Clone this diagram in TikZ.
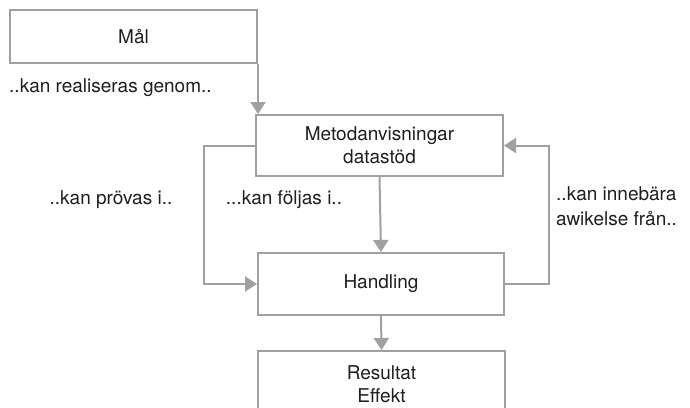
\documentclass[tikz,border=0pt]{standalone}
\usepackage{fontspec}
\setmainfont{TeX Gyre Heros}
\usepackage{tikz}
\usetikzlibrary{arrows.meta,calc,positioning}
\definecolor{linegray}{RGB}{160,160,160}
\definecolor{textgray}{RGB}{30,30,30}
\tikzset{
  box/.style={draw=linegray,line width=2pt,fill=white,text=textgray,align=center,
    inner sep=0pt,minimum width=247pt,font=\fontsize{19}{23}\selectfont},
  lbl/.style={text=textgray,inner sep=0pt,align=left,font=\fontsize{19}{25}\selectfont},
  arr/.style={draw=linegray,line width=2pt,-{Triangle[width=15pt,length=12pt]}}
}
\begin{document}
\begin{tikzpicture}[x=1pt,y=-1pt]
\useasboundingbox (0,0) rectangle (690,407);
\clip (0,0) rectangle (690,407);
\node[box,minimum height=53pt] (mal) at (133.5,36.5) {Mål};
\node[box,minimum height=61pt] (metod) at (379.5,145.5) {Metodanvisningar\\datastöd};
\node[box,minimum height=62pt,minimum width=246pt] (handling) at (381,284) {Handling};
\node[box,minimum height=66pt] (resultat) at (381.5,384) {Resultat\\Effekt};
\node[lbl,anchor=west] (realiseras) at (9,88) {..kan realiseras genom..};
\node[lbl] (provas) at (111,200) {..kan prövas i..};
\node[lbl] (foljas) at (284,200) {...kan följas i..};
\node[lbl,anchor=north west] (avvikelse) at (556,186) {..kan innebära\\awikelse från..};
\path
(mal.south east) edge[arr] (mal.south east |- metod.north)
(metod.south) edge[arr] (handling.north)
(handling.south) edge[arr] (resultat.north);
\draw[arr] (metod.west) -- ++(-51,0) |- (handling.west);
\draw[arr] (handling.east) -- ++(44,0) |- (metod.east);
\end{tikzpicture}
\end{document}
